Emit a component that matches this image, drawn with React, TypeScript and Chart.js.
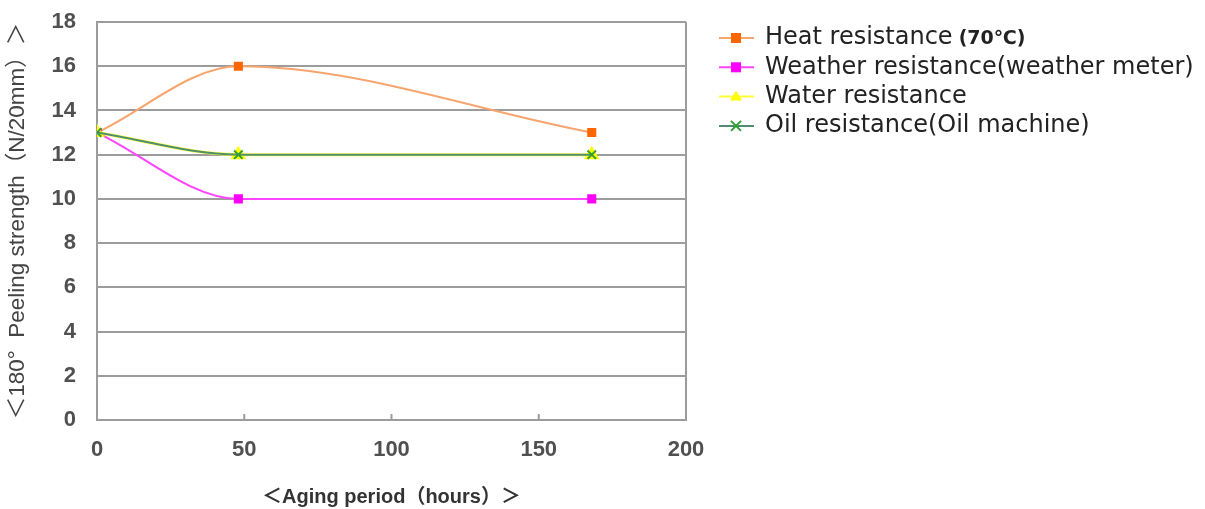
import React, { useEffect, useRef } from "react";
import { Chart, registerables } from "chart.js";

Chart.register(...registerables);

const agingHours = [0, 48, 168];
const heatResistance = [13, 16, 13];
const weatherResistance = [13, 10, 10];
const waterResistance = [13, 12, 12];
const oilResistance = [13, 12, 12];
const seriesNames = [
  "Heat resistance",
  "Weather resistance(weather meter)",
  "Water resistance",
  "Oil resistance(Oil machine)",
];
const heatSuffix = "(70℃)";
const yTitle = "＜180°  Peeling strength（N/20mm）＞";
const xTitle = "＜Aging period（hours）＞";
const xMin = 0;
const xMax = 200;
const xStep = 50;
const yMin = 0;
const yMax = 18;
const yStep = 2;
const innerTickValues = [50, 100, 150];

const GRID = "#9c9c9c";

function toPoints(values: number[]) {
  return values.map((v, i) => ({ x: agingHours[i], y: v }));
}

type Marker = "rect" | "triangle" | "crossRot";

function drawMarker(ctx: CanvasRenderingContext2D, kind: Marker, x: number, y: number, fill: string, stroke: string) {
  ctx.save();
  if (kind === "rect") {
    ctx.fillStyle = fill;
    ctx.fillRect(x - 5, y - 5, 10, 10);
  } else if (kind === "triangle") {
    ctx.fillStyle = fill;
    ctx.beginPath();
    ctx.moveTo(x, y - 6);
    ctx.lineTo(x + 6, y + 4);
    ctx.lineTo(x - 6, y + 4);
    ctx.closePath();
    ctx.fill();
  } else {
    ctx.strokeStyle = stroke;
    ctx.lineWidth = 2;
    ctx.beginPath();
    ctx.moveTo(x - 5, y - 5);
    ctx.lineTo(x + 5, y + 5);
    ctx.moveTo(x + 5, y - 5);
    ctx.lineTo(x - 5, y + 5);
    ctx.stroke();
  }
  ctx.restore();
}

const legendMarkers: Marker[] = ["rect", "rect", "triangle", "crossRot"];

const customPlugin = {
  id: "customDecor",
  afterDatasetsDraw(chart: any) {
    const ctx: CanvasRenderingContext2D = chart.ctx;
    const xs = chart.scales.x;
    const ys = chart.scales.y;
    const y0 = ys.getPixelForValue(yMin);
    ctx.save();
    ctx.strokeStyle = GRID;
    ctx.lineWidth = 2;
    innerTickValues.forEach((v) => {
      const px = xs.getPixelForValue(v);
      ctx.beginPath();
      ctx.moveTo(px, y0);
      ctx.lineTo(px, y0 - 6);
      ctx.stroke();
    });
    ctx.restore();
  },
  afterDraw(chart: any) {
    const ctx: CanvasRenderingContext2D = chart.ctx;
    const lx = 719;
    const tx = 765;
    const startY = 38;
    const gap = 29.3;
    chart.data.datasets.forEach((ds: any, i: number) => {
      const y = startY + i * gap;
      ctx.save();
      ctx.strokeStyle = ds.borderColor;
      ctx.lineWidth = 2;
      ctx.beginPath();
      ctx.moveTo(lx, y);
      ctx.lineTo(lx + 35, y);
      ctx.stroke();
      drawMarker(ctx, legendMarkers[i], lx + 17, y, ds.pointBackgroundColor, ds.pointBorderColor);
      ctx.fillStyle = "#222";
      ctx.font = "24px 'DejaVu Sans'";
      ctx.textBaseline = "middle";
      ctx.textAlign = "left";
      ctx.fillText(seriesNames[i], tx, y);
      if (i === 0) {
        const w = ctx.measureText(seriesNames[i]).width;
        ctx.font = "bold 19px 'DejaVu Sans', 'Noto Sans CJK JP'";
        ctx.fillText(heatSuffix, tx + w + 6, y + 1);
      }
      ctx.restore();
    });
  },
};

export default function App() {
  const canvasRef = useRef<HTMLCanvasElement | null>(null);

  useEffect(() => {
    if (!canvasRef.current) return;
    const chart = new Chart(canvasRef.current, {
      type: "line",
      data: {
        datasets: [
          {
            label: seriesNames[0],
            data: toPoints(heatResistance),
            borderColor: "#f7a56e",
            backgroundColor: "#ff6600",
            pointBackgroundColor: "#ff6600",
            pointBorderColor: "#ff6600",
            pointStyle: "rect",
            pointRadius: 5,
            borderWidth: 2,
            cubicInterpolationMode: "monotone",
            order: 4,
          },
          {
            label: seriesNames[1],
            data: toPoints(weatherResistance),
            borderColor: "#ff44ff",
            backgroundColor: "#ff00ff",
            pointBackgroundColor: "#ff00ff",
            pointBorderColor: "#ff00ff",
            pointStyle: "rect",
            pointRadius: 5,
            borderWidth: 2,
            cubicInterpolationMode: "monotone",
            order: 3,
          },
          {
            label: seriesNames[2],
            data: toPoints(waterResistance),
            borderColor: "#ffff33",
            backgroundColor: "#ffff00",
            pointBackgroundColor: "#ffff00",
            pointBorderColor: "#ffff00",
            pointStyle: "triangle",
            pointRadius: 6,
            borderWidth: 3,
            cubicInterpolationMode: "monotone",
            order: 2,
          },
          {
            label: seriesNames[3],
            data: toPoints(oilResistance),
            borderColor: "#4f8f6f",
            backgroundColor: "#33a033",
            pointBackgroundColor: "#33a033",
            pointBorderColor: "#33a033",
            pointStyle: "crossRot",
            pointRadius: 6,
            pointBorderWidth: 2,
            borderWidth: 2,
            cubicInterpolationMode: "monotone",
            order: 1,
          },
        ] as any,
      },
      options: {
        animation: false,
        responsive: true,
        maintainAspectRatio: false,
        layout: { padding: { left: 0, right: 519, top: 22, bottom: 0 } },
        plugins: {
          legend: { display: false },
          tooltip: { enabled: false },
        },
        scales: {
          x: {
            type: "linear",
            min: xMin,
            max: xMax,
            ticks: {
              stepSize: xStep,
              color: "#505050",
              padding: 17,
              font: { family: "'Liberation Sans'", size: 22, weight: "bold" },
            },
            grid: {
              drawTicks: false,
              lineWidth: 2,
              color: (c: any) =>
                c.tick && (c.tick.value === xMin || c.tick.value === xMax) ? GRID : "rgba(0,0,0,0)",
            },
            border: { display: true, color: GRID, width: 2 },
            title: {
              display: true,
              text: xTitle,
              color: "#333",
              padding: { top: 0, bottom: 0 },
              font: { family: "'Liberation Sans', 'Noto Sans CJK JP'", size: 20, weight: "bold" },
            },
            afterFit: (s: any) => {
              s.height = 89;
              s.paddingLeft = 0;
              s.paddingRight = 0;
            },
          },
          y: {
            type: "linear",
            min: yMin,
            max: yMax,
            ticks: {
              stepSize: yStep,
              color: "#505050",
              padding: 21,
              font: { family: "'Liberation Sans'", size: 22, weight: "bold" },
            },
            grid: { drawTicks: false, lineWidth: 2, color: GRID },
            border: { display: true, color: GRID, width: 2 },
            title: {
              display: true,
              text: yTitle,
              color: "#444",
              padding: { top: 4, bottom: 0 },
              font: { family: "'Liberation Sans', 'Noto Sans CJK JP'", size: 22.5 },
            },
            afterFit: (s: any) => {
              s.width = 97;
              s.paddingTop = 0;
              s.paddingBottom = 0;
            },
          },
        },
      },
      plugins: [customPlugin],
    });
    return () => chart.destroy();
  }, []);

  return (
    <div style={{ position: "fixed", left: 0, top: 0, width: 1205, height: 509, background: "#fff" }}>
      <canvas ref={canvasRef} />
    </div>
  );
}
